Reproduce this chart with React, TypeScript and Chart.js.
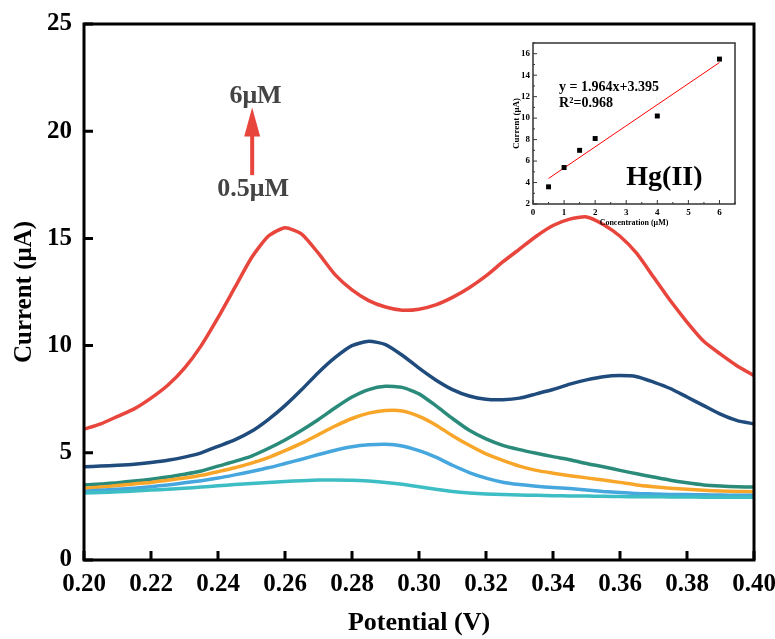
import React, { useEffect, useRef } from "react";
import { Chart, registerables } from "chart.js";
Chart.register(...registerables);

// ---------- main chart data ----------
const potential = [
  0.200, 0.205, 0.210, 0.215, 0.220, 0.225, 0.230, 0.235, 0.240, 0.245,
  0.250, 0.255, 0.260, 0.265, 0.270, 0.275, 0.280, 0.285, 0.290, 0.295,
  0.300, 0.305, 0.310, 0.315, 0.320, 0.325, 0.330, 0.335, 0.340, 0.345,
  0.350, 0.355, 0.360, 0.365, 0.370, 0.375, 0.380, 0.385, 0.390, 0.395, 0.400,
];
const current6uM = [
  6.1, 6.35, 6.7, 7.05, 7.55, 8.15, 8.95, 10.0, 11.3, 12.7,
  14.1, 15.1, 15.5, 15.2, 14.3, 13.3, 12.6, 12.1, 11.8, 11.65,
  11.7, 11.9, 12.25, 12.7, 13.25, 13.9, 14.5, 15.1, 15.6, 15.9,
  16.0, 15.65, 15.1, 14.3, 13.2, 12.1, 11.1, 10.2, 9.6, 9.05, 8.6,
];
const current4uM = [
  4.35, 4.38, 4.42, 4.47, 4.55, 4.65, 4.8, 5.0, 5.3, 5.6,
  6.0, 6.55, 7.2, 7.95, 8.75, 9.45, 10.0, 10.2, 10.05, 9.55,
  8.95, 8.4, 7.95, 7.65, 7.5, 7.48, 7.55, 7.75, 7.95, 8.2,
  8.4, 8.55, 8.6, 8.55, 8.3, 8.0, 7.6, 7.2, 6.8, 6.5, 6.35,
];
const current2uM = [
  3.5, 3.55, 3.6, 3.68, 3.77, 3.87, 4.0, 4.15, 4.38, 4.6,
  4.85, 5.2, 5.6, 6.05, 6.55, 7.1, 7.6, 7.95, 8.1, 8.05,
  7.75, 7.2, 6.6, 6.05, 5.65, 5.35, 5.15, 4.98, 4.82, 4.68,
  4.5, 4.35, 4.18, 4.02, 3.87, 3.72, 3.6, 3.5, 3.45, 3.42, 3.4,
];
const current1_5uM = [
  3.35, 3.4, 3.47, 3.55, 3.62, 3.72, 3.82, 3.95, 4.12, 4.3,
  4.52, 4.78, 5.1, 5.45, 5.85, 6.25, 6.6, 6.85, 6.97, 6.95,
  6.7, 6.3, 5.8, 5.35, 4.95, 4.65, 4.38, 4.18, 4.05, 3.93,
  3.83, 3.73, 3.62, 3.5, 3.42, 3.35, 3.3, 3.25, 3.22, 3.2, 3.18,
];
const current1uM = [
  3.2, 3.25, 3.3, 3.35, 3.42, 3.5, 3.6, 3.7, 3.82, 3.97,
  4.13, 4.3, 4.5, 4.7, 4.92, 5.12, 5.28, 5.37, 5.4, 5.32,
  5.1, 4.8, 4.42, 4.08, 3.82, 3.63, 3.52, 3.44, 3.38, 3.33,
  3.27, 3.2, 3.15, 3.1, 3.08, 3.06, 3.05, 3.04, 3.03, 3.02, 3.02,
];
const current0_5uM = [
  3.12, 3.15, 3.18, 3.22, 3.26, 3.3, 3.35, 3.4, 3.46, 3.52,
  3.57, 3.62, 3.66, 3.7, 3.73, 3.73, 3.72, 3.68, 3.62, 3.53,
  3.42, 3.3, 3.2, 3.13, 3.08, 3.05, 3.03, 3.02, 3.0, 2.99,
  2.98, 2.97, 2.96, 2.95, 2.95, 2.94, 2.94, 2.93, 2.93, 2.93, 2.93,
];
const seriesColors = ["#3dbdc4", "#45a7de", "#f8a62a", "#2b8b7b", "#1f4b7d", "#e8453c"];
const seriesValues = [current0_5uM, current1uM, current1_5uM, current2uM, current4uM, current6uM];

// ---------- inset data ----------
const concentration = [0.5, 1, 1.5, 2, 4, 6];
const peakCurrent = [3.6, 5.4, 7.0, 8.1, 10.2, 15.5];
const fitX = [0.5, 6];
const fitY = [4.38, 15.18];

const SERIF = "'Liberation Serif', 'Times New Roman', serif";

const mainPlugin = {
  id: "mainFrame",
  afterDraw(chart: any) {
    const { ctx, chartArea, scales } = chart;
    const { left, right, top, bottom } = chartArea;
    const xs = scales.x;
    const ys = scales.y;
    ctx.save();
    ctx.strokeStyle = "#000";
    ctx.lineWidth = 3;
    ctx.strokeRect(left, top, right - left, bottom - top);
    ctx.beginPath();
    ys.ticks.forEach((t: any) => {
      const p = ys.getPixelForValue(t.value);
      ctx.moveTo(left, p);
      ctx.lineTo(left + 9, p);
    });
    xs.ticks.forEach((t: any) => {
      const p = xs.getPixelForValue(t.value);
      ctx.moveTo(p, bottom);
      ctx.lineTo(p, bottom - 9);
    });
    ctx.stroke();

    // annotation: arrow and concentration labels
    const ax = xs.getPixelForValue(0.2502);
    const yTip = ys.getPixelForValue(21.1);
    const yBase = ys.getPixelForValue(19.75);
    const yTail = ys.getPixelForValue(17.95);
    ctx.fillStyle = "#e8453c";
    ctx.fillRect(ax - 2, yBase - 1, 4, yTail - yBase + 1);
    ctx.beginPath();
    ctx.moveTo(ax, yTip);
    ctx.lineTo(ax + 8, yBase);
    ctx.lineTo(ax - 8, yBase);
    ctx.closePath();
    ctx.fill();

    ctx.fillStyle = "#444";
    ctx.font = `bold 26px ${SERIF}`;
    ctx.textAlign = "center";
    ctx.textBaseline = "middle";
    ctx.fillText("6μM", xs.getPixelForValue(0.2512), ys.getPixelForValue(21.65));
    ctx.fillText("0.5μM", xs.getPixelForValue(0.2505), ys.getPixelForValue(17.3));
    ctx.restore();
  },
};

const insetPlugin = {
  id: "insetFrame",
  afterDraw(chart: any) {
    const { ctx, chartArea, scales } = chart;
    const { left, right, top, bottom } = chartArea;
    const xs = scales.x;
    const ys = scales.y;
    ctx.save();
    ctx.strokeStyle = "#333";
    ctx.lineWidth = 1.5;
    ctx.strokeRect(left, top, right - left, bottom - top);
    ctx.lineWidth = 1;
    ctx.beginPath();
    for (let v = 2; v <= 17; v += 1) {
      const p = ys.getPixelForValue(v);
      const len = v % 2 === 0 ? 4 : 2;
      ctx.moveTo(left, p);
      ctx.lineTo(left + len, p);
    }
    for (let v = 0; v <= 6.5; v += 0.5) {
      const p = xs.getPixelForValue(v);
      const len = Number.isInteger(v) ? 4 : 2;
      ctx.moveTo(p, bottom);
      ctx.lineTo(p, bottom - len);
    }
    ctx.stroke();

    ctx.fillStyle = "#000";
    ctx.textAlign = "left";
    ctx.textBaseline = "middle";
    ctx.font = `bold 14px ${SERIF}`;
    ctx.fillText("y = 1.964x+3.395", xs.getPixelForValue(0.84), ys.getPixelForValue(12.9));
    ctx.fillText("R²=0.968", xs.getPixelForValue(0.84), ys.getPixelForValue(11.4));
    ctx.textAlign = "center";
    ctx.font = `bold 28px ${SERIF}`;
    ctx.fillText("Hg(II)", xs.getPixelForValue(4.23), ys.getPixelForValue(4.4));
    ctx.restore();
  },
};

const zeroXPad = (s: any, h: number) => {
  s.height = h;
  s.paddingLeft = 0;
  s.paddingRight = 0;
};
const zeroYPad = (s: any, w: number) => {
  s.width = w;
  s.paddingTop = 0;
  s.paddingBottom = 0;
};

export default function App() {
  const mainRef = useRef<HTMLCanvasElement>(null);
  const insetRef = useRef<HTMLCanvasElement>(null);

  useEffect(() => {
    const tickFont = { family: SERIF, size: 25, weight: "bold" as const };
    const main = new Chart(mainRef.current!, {
      type: "line",
      data: {
        datasets: seriesValues.map((vals, i) => ({
          data: potential.map((x, j) => ({ x, y: vals[j] })),
          borderColor: seriesColors[i],
          borderWidth: 3.5,
          pointRadius: 0,
          tension: 0.2,
          fill: false,
        })),
      },
      options: {
        animation: false,
        responsive: false,
        maintainAspectRatio: false,
        layout: { padding: { top: 24, right: 21, left: 0, bottom: 0 } },
        plugins: { legend: { display: false }, tooltip: { enabled: false } },
        scales: {
          x: {
            type: "linear",
            min: 0.2,
            max: 0.4,
            grid: { display: false, drawTicks: false },
            border: { display: false },
            ticks: {
              stepSize: 0.02,
              includeBounds: false,
              autoSkip: false,
              maxRotation: 0,
              color: "#000",
              font: tickFont,
              padding: 10,
              callback: (v: any) => Number(v).toFixed(2),
            },
            title: {
              display: true,
              text: "Potential (V)",
              color: "#000",
              font: { family: SERIF, size: 26, weight: "bold", lineHeight: 1 },
              padding: { top: 0, bottom: 3 },
            },
            afterFit: (s: any) => zeroXPad(s, 79),
          },
          y: {
            min: 0,
            max: 25,
            grid: { display: false, drawTicks: false },
            border: { display: false },
            ticks: {
              stepSize: 5,
              includeBounds: false,
              color: "#000",
              font: tickFont,
              padding: 12,
            },
            title: {
              display: true,
              text: "Current (μA)",
              color: "#000",
              font: { family: SERIF, size: 25, weight: "bold", lineHeight: 1 },
              padding: { top: 12, bottom: 0 },
            },
            afterFit: (s: any) => zeroYPad(s, 84),
          },
        },
      },
      plugins: [mainPlugin],
    });

    const smallFont = { family: SERIF, size: 9, weight: "bold" as const };
    const inset = new Chart(insetRef.current!, {
      type: "scatter",
      data: {
        datasets: [
          {
            data: concentration.map((x, i) => ({ x, y: peakCurrent[i] })),
            pointStyle: "rect",
            pointRadius: 3.5,
            backgroundColor: "#000",
            borderColor: "#000",
            borderWidth: 0,
          },
          {
            data: fitX.map((x, i) => ({ x, y: fitY[i] })),
            showLine: true,
            borderColor: "#ff0000",
            borderWidth: 1,
            pointRadius: 0,
          },
        ],
      },
      options: {
        animation: false,
        responsive: false,
        maintainAspectRatio: false,
        layout: { padding: { top: 23, right: 25, left: 0, bottom: 0 } },
        plugins: { legend: { display: false }, tooltip: { enabled: false } },
        scales: {
          x: {
            type: "linear",
            min: 0,
            max: 6.5,
            grid: { display: false, drawTicks: false },
            border: { display: false },
            ticks: {
              stepSize: 1,
              includeBounds: false,
              autoSkip: false,
              maxRotation: 0,
              color: "#000",
              font: smallFont,
              padding: 3,
            },
            title: {
              display: true,
              text: "Concentration (μM)",
              color: "#000",
              font: { family: SERIF, size: 8, weight: "bold", lineHeight: 1 },
              padding: { top: 0, bottom: 13 },
            },
            afterFit: (s: any) => zeroXPad(s, 36),
          },
          y: {
            min: 2,
            max: 17,
            grid: { display: false, drawTicks: false },
            border: { display: false },
            ticks: {
              stepSize: 2,
              includeBounds: false,
              color: "#000",
              font: smallFont,
              padding: 3,
            },
            title: {
              display: true,
              text: "Current (μA)",
              color: "#000",
              font: { family: SERIF, size: 9, weight: "bold", lineHeight: 1 },
              padding: { top: 32, bottom: 0 },
            },
            afterFit: (s: any) => zeroYPad(s, 53),
          },
        },
      },
      plugins: [insetPlugin],
    });

    return () => {
      main.destroy();
      inset.destroy();
    };
  }, []);

  return (
    <div style={{ position: "absolute", left: 0, top: 0, width: 775, height: 639, background: "#fff" }}>
      <canvas
        ref={mainRef}
        width={775}
        height={639}
        style={{ position: "absolute", left: 0, top: 0, width: 775, height: 639 }}
      />
      <canvas
        ref={insetRef}
        width={280}
        height={220}
        style={{ position: "absolute", left: 480, top: 20, width: 280, height: 220, pointerEvents: "none" }}
      />
    </div>
  );
}
